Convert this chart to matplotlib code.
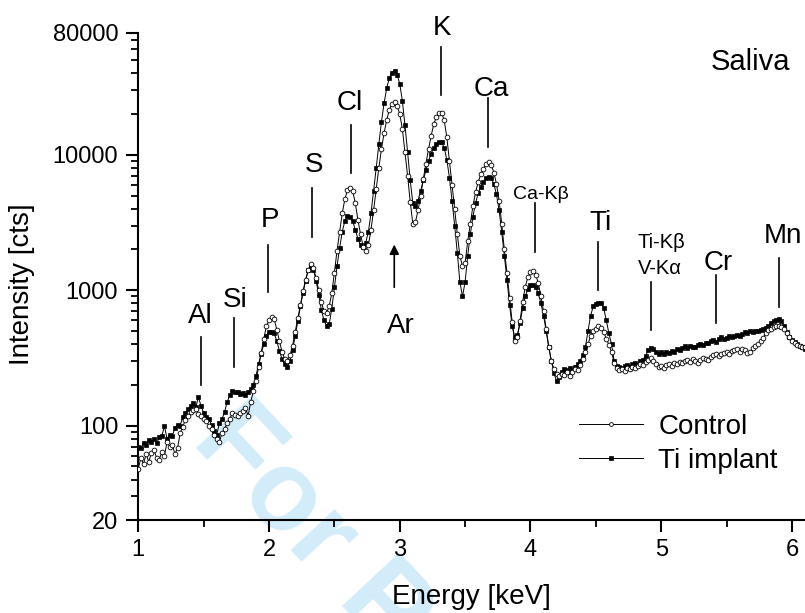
import numpy as np
import matplotlib.pyplot as plt
from matplotlib.ticker import LogLocator, NullFormatter, MultipleLocator

plt.rcParams['font.family'] = ['Liberation Sans', 'DejaVu Sans']

# energy channels, 20 eV apart
energy = np.round(1.0 + 0.02 * np.arange(256), 2)

control = [
    48, 58, 52, 62, 54, 63, 66, 58, 56, 64,
    60, 76, 70, 72, 62, 68, 88, 98, 110, 118,
    127, 130, 132, 122, 117, 112, 108, 100, 94, 86,
    80, 76, 88, 95, 104, 112, 125, 120, 117, 124,
    128, 136, 118, 150, 180, 215, 270, 345, 440, 540,
    600, 635, 610, 510, 420, 350, 310, 300, 330, 390,
    490, 620, 780, 980, 1200, 1420, 1550, 1450, 1230, 1000,
    820, 700, 680, 760, 950, 1350, 1950, 2700, 3700, 4700,
    5500, 5700, 5400, 4400, 3300, 2600, 2100, 1950, 2150, 2800,
    3900, 5600, 8000, 11000, 14500, 18000, 21500, 23800, 24500, 23000,
    20000, 15500, 10500, 7000, 4500, 3100, 3200, 3900, 5000, 6600,
    8600, 11000, 13800, 16800, 19000, 20300, 20400, 18000, 13500, 9000,
    6000, 4000, 2600, 1800, 1500, 1600, 2300, 3100, 4200, 5300,
    6300, 7200, 7900, 8500, 8800, 8400, 7400, 6100, 4600, 3100,
    2000, 1350, 880, 580, 420, 450, 590, 820, 1060, 1250,
    1360, 1380, 1300, 1130, 900, 700, 520, 380, 300, 260,
    240, 232, 240, 236, 248, 232, 250, 262, 258, 280,
    310, 350, 400, 460, 500, 520, 540, 525, 490, 440,
    395, 350, 292, 268, 258, 262, 255, 266, 262, 270,
    268, 276, 285, 280, 296, 305, 316, 298, 285, 272,
    278, 268, 282, 286, 276, 290, 284, 296, 290, 302,
    306, 296, 312, 300, 292, 306, 318, 310, 308, 322,
    330, 338, 326, 340, 346, 350, 340, 356, 362, 366,
    352, 368, 360, 342, 348, 375, 385, 400, 420, 445,
    480, 505, 520, 532, 540, 540, 538, 520, 480, 450,
    425, 410, 395, 385, 382, 380,
]

ti_implant = [
    70, 68, 75, 72, 78, 76, 80, 74, 82, 84,
    99, 80, 86, 84, 96, 102, 100, 115, 125, 132,
    140, 146, 138, 162, 140, 124, 116, 112, 102, 92,
    86, 104, 112, 126, 150, 168, 180, 176, 178, 170,
    174, 168, 176, 186, 200, 232, 285, 340, 400, 460,
    490, 495, 480, 420, 355, 310, 285, 270, 300, 360,
    460, 590, 760, 960, 1180, 1400, 1500, 1420, 1180, 920,
    720, 600, 545, 560, 730, 1050, 1500, 2050, 2700, 3250,
    3550, 3500, 3250, 2800, 2400, 2150, 2100, 2250, 2700, 3700,
    5400, 8000, 12000, 17500, 24000, 31000, 37000, 40500, 41500, 39000,
    33500, 25000, 16500, 10500, 6500, 4400, 4200, 4600, 5400, 6500,
    7700, 9000, 10200, 11300, 12100, 12500, 12400, 11300, 9200, 6800,
    4600, 3000, 1900, 1150, 900, 1150, 1800, 2600, 3500, 4400,
    5200, 5800, 6300, 6700, 6900, 6700, 6100, 5100, 3900, 2700,
    1800, 1200, 780, 540, 450, 470, 570, 740, 900, 1020,
    1090, 1100, 1050, 950, 800, 650, 500, 380, 300, 245,
    212, 228, 250, 262, 256, 266, 258, 272, 284, 300,
    330, 380, 500, 650, 760, 790, 800, 810, 740, 600,
    480, 400, 300, 275, 272, 268, 276, 280, 272, 284,
    290, 282, 300, 308, 326, 360, 372, 368, 352, 340,
    348, 336, 352, 344, 358, 352, 366, 360, 376, 386,
    372, 390, 382, 378, 392, 402, 396, 410, 405, 420,
    430, 418, 440, 452, 438, 446, 460, 448, 462, 470,
    458, 478, 490, 482, 496, 488, 502, 498, 512, 520,
    530, 545, 570, 590, 605, 610, 590, 545, 490, 455,
    430, 412, 400, 390, 384, 370,
]

# peak labels: text, energy [keV], height (axes fraction), font size
peak_names = ['Al', 'Si', 'P', 'S', 'Cl', 'Ar', 'K', 'Ca', 'Ca-K\u03b2', 'Ti',
              'Ti-K\u03b2', 'V-K\u03b1', 'Cr', 'Mn']
peak_text_x = [1.474, 1.740, 2.008, 2.344, 2.620, 3.010, 3.324, 3.699, 4.081, 4.532,
               5.000, 4.990, 5.434, 5.932]
peak_text_y = [0.405, 0.437, 0.601, 0.714, 0.841, 0.384, 0.995, 0.870, 0.659, 0.595,
               0.558, 0.505, 0.513, 0.569]
peak_text_size = [20, 20, 20, 20, 20, 20, 20, 20, 14, 20, 14.5, 14.5, 20, 20]

# marker lines under the labels: energy, bottom, top (axes fraction)
line_x = [1.480, 1.732, 1.992, 2.329, 2.627, 3.316, 3.676, 4.035, 4.517, 4.922, 5.420, 5.902]
line_lo = [0.277, 0.314, 0.468, 0.581, 0.712, 0.872, 0.765, 0.550, 0.472, 0.390, 0.405, 0.437]
line_hi = [0.376, 0.415, 0.564, 0.682, 0.811, 0.971, 0.866, 0.651, 0.571, 0.488, 0.503, 0.538]

fig = plt.figure(figsize=(8.05, 6.13), dpi=100)
ax = fig.add_axes([0.1718, 0.1512, 0.8282, 0.7957])

# watermark behind everything
ax.text(0.236, 0.278, 'For Peer Review', transform=fig.transFigure, rotation=-47,
        rotation_mode='anchor', ha='left', va='baseline', fontsize=82,
        fontweight='bold', color='#d3ecfa', zorder=0, clip_on=False)

l_ti, = ax.plot(energy, ti_implant, '-', color='black', lw=0.7, marker='s', ms=2.8,
                mfc='black', mec='black', mew=0.5, label='Ti implant', zorder=3)
l_c, = ax.plot(energy, control, '-', color='black', lw=0.7, marker='o', ms=3.4,
               mfc='white', mec='black', mew=0.6, label='Control', zorder=4)

ax.set_yscale('log')
ax.set_xlim(1, 6.1)
ax.set_ylim(20, 80000)
ax.set_yticks([20, 100, 1000, 10000, 80000])
ax.set_yticklabels(['20', '100', '1000', '10000', '80000'])
ax.yaxis.set_minor_locator(LogLocator(base=10, subs=np.arange(2, 10) * 1.0, numticks=20))
ax.yaxis.set_minor_formatter(NullFormatter())
ax.set_xticks([1, 2, 3, 4, 5, 6])
ax.xaxis.set_minor_locator(MultipleLocator(0.5))

for s in ['top', 'right']:
    ax.spines[s].set_visible(False)
for s in ['left', 'bottom']:
    ax.spines[s].set_linewidth(1.5)
ax.tick_params(which='major', length=8.5, width=1.5, labelsize=17, pad=5)
ax.tick_params(which='minor', length=5, width=1.3)
ax.tick_params(axis='y', which='major', pad=6)

ax.set_xlabel('Energy [keV]', fontsize=20)
ax.set_ylabel('Intensity [cts]', fontsize=20)
ax.xaxis.set_label_coords(0.5, -0.130)
ax.yaxis.set_label_coords(-0.155, 0.485)

trans = ax.get_xaxis_transform()
for name, x, y, fs in zip(peak_names, peak_text_x, peak_text_y, peak_text_size):
    ax.text(x, y, name, transform=trans, ha='center', va='baseline', fontsize=fs,
            clip_on=False)
for x, lo, hi in zip(line_x, line_lo, line_hi):
    ax.plot([x, x], [lo, hi], transform=trans, color='black', lw=1.2, clip_on=False)

# Ar arrow
ax.annotate('', xy=(2.958, 0.571), xytext=(2.958, 0.472), xycoords=trans,
            textcoords=trans,
            arrowprops=dict(arrowstyle='-|>', color='black', lw=1.2, mutation_scale=14))

ax.text(5.68, 0.923, 'Saliva', transform=trans, ha='center', va='baseline', fontsize=21)

ax.legend(handles=[l_c, l_ti], loc='center left', bbox_to_anchor=(579 / 805, 1 - 444 / 613),
          bbox_transform=fig.transFigure, frameon=False, fontsize=20, handlelength=2.3,
          handletextpad=0.55, labelspacing=0.3, borderpad=0, borderaxespad=0, numpoints=1,
          markerscale=0.8)

fig.savefig('out.png', dpi=100)
